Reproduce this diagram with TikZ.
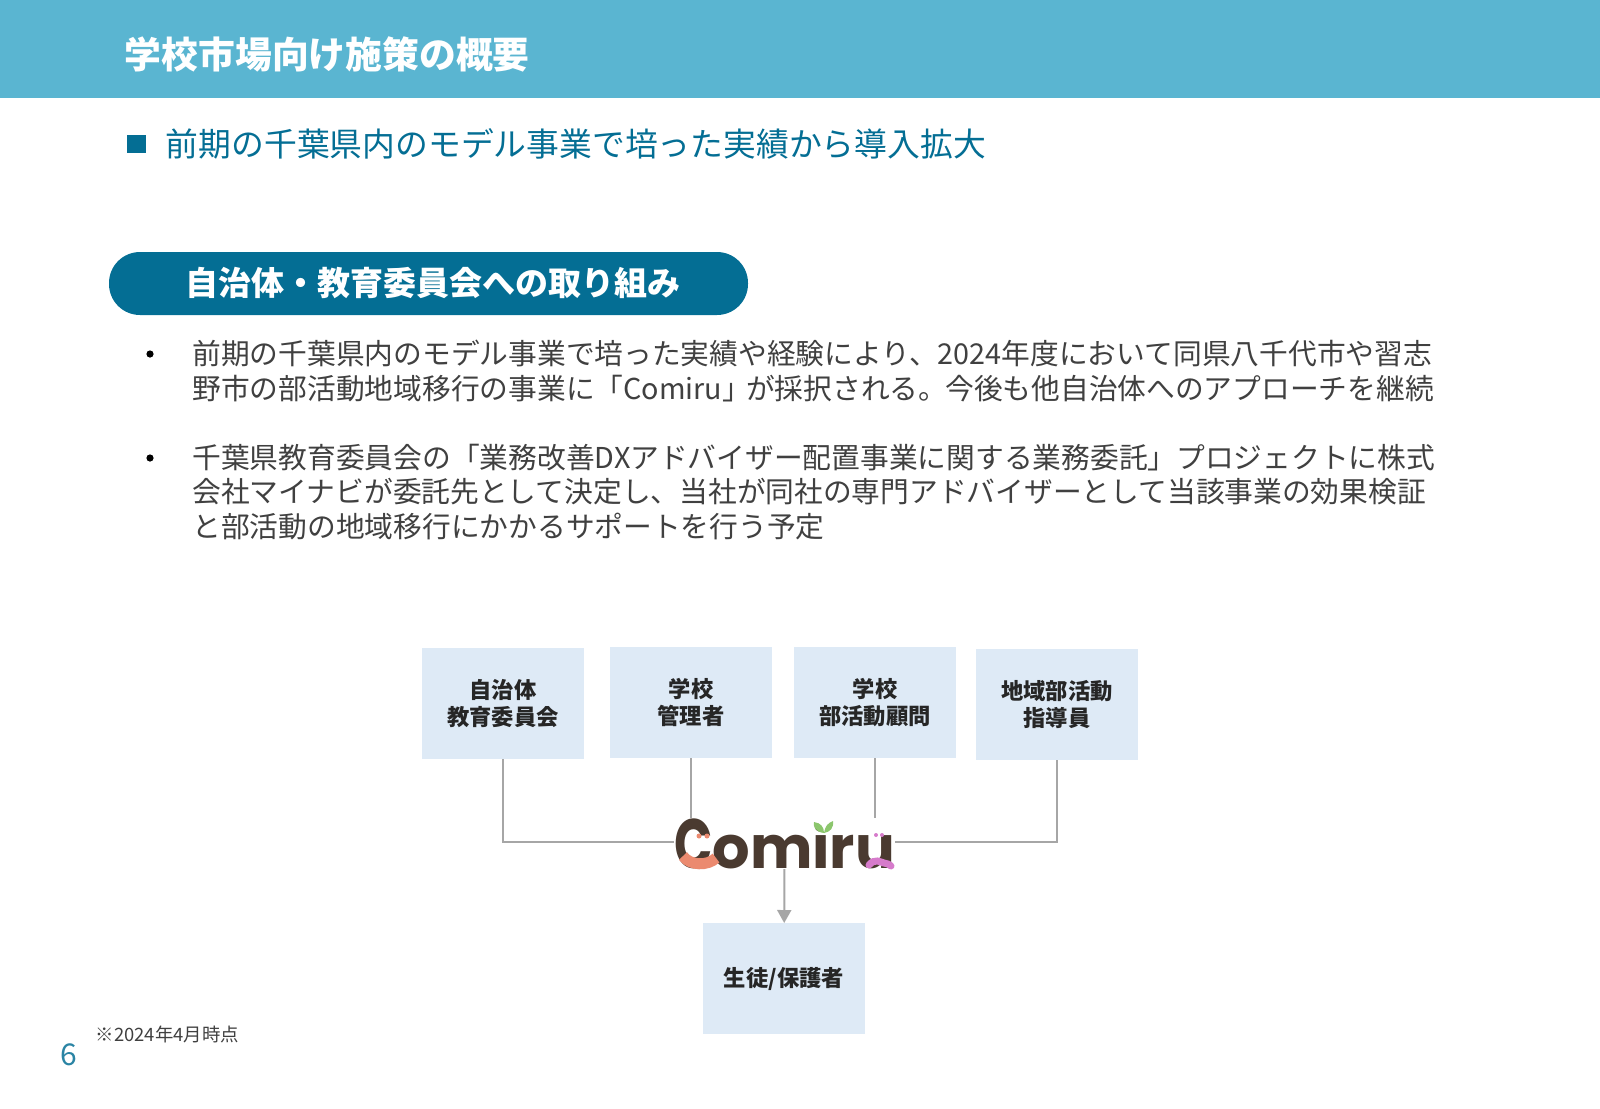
\documentclass[tikz,border=0pt]{standalone}
\usepackage{fontspec}
\setmainfont{Noto Sans CJK JP}
\newfontfamily\logofont{Poppins}
\usetikzlibrary{positioning,arrows.meta}
\definecolor{headblue}{HTML}{5AB5D1}
\definecolor{deepblue}{HTML}{046E94}
\definecolor{boxblue}{HTML}{DEEAF6}
\definecolor{bodygray}{HTML}{404040}
\definecolor{linegray}{HTML}{A6A6A6}
\definecolor{logobrown}{HTML}{4A3A30}
\definecolor{leafgreen}{HTML}{8CC66D}
\definecolor{logosalmon}{HTML}{EB8A6F}
\definecolor{logopink}{HTML}{D67BCB}
\begin{document}
\begin{tikzpicture}[
    x=0.5pt,
    y=-0.5pt,
    plaintext/.style={
        inner sep=0pt,
        anchor=west
    },
    titletext/.style={
        plaintext,
        text=white,
        font=\fontsize{18.4pt}{22pt}\selectfont\bfseries
    },
    subtext/.style={
        plaintext,
        text=deepblue,
        font=\fontsize{16.4pt}{20pt}\selectfont
    },
    pill/.style={
        fill=deepblue,
        rounded corners=15.5pt,
        text=white,
        minimum width=319.5pt,
        minimum height=31.5pt,
        inner sep=0pt,
        font=\fontsize{16.5pt}{20pt}\selectfont\bfseries
    },
    bodytext/.style={
        inner sep=0pt,
        anchor=north west,
        align=left,
        text=bodygray,
        font=\fontsize{14.37pt}{17.35pt}\selectfont
    },
    bulletdot/.style={
        circle,
        fill=black,
        minimum size=3.6pt,
        inner sep=0pt
    },
    actor/.style={
        fill=boxblue,
        minimum width=81pt,
        minimum height=55.5pt,
        inner sep=0pt,
        outer sep=0pt,
        align=center,
        text=black!85,
        font=\fontsize{11.15pt}{13.3pt}\selectfont\bfseries
    },
    link/.style={
        draw=linegray,
        line width=1pt
    },
    arrow/.style={
        link,
        -{Triangle[length=6.5pt,width=7pt]}
    }
]
\useasboundingbox (0,0) rectangle (1600,1108);

% Header
\fill[headblue] (0,0) rectangle (1600,98);
\node[titletext] (title) at (124.5,54.5) {学校市場向け施策の概要};
\fill[deepblue] (126.5,135) rectangle (146,153);
\node[subtext] (sub) at (165.5,144) {前期の千葉県内のモデル事業で培った実績から導入拡大};

% Text
\node[pill] (heading) at (428.5,283.5) {\hspace*{4.5pt}自治体・教育委員会への取り組み};
\node[bulletdot] (dotA) at (150,354) {};
\node[bodytext] (paraA) at (192,339.5) {前期の千葉県内のモデル事業で培った実績や経験により、2024年度において同県八千代市や習志\\野市の部活動地域移行の事業に「Comiru」\kern-2.5ptが採択される。\kern-1pt今後も他自治体へのアプローチを継続};
\node[bulletdot] (dotB) at (150,458) {};
\node[bodytext] (paraB) at (192,443.5) {千葉県教育委員会の「業務改善DXアドバイザー配置事業に関する業務委託」プロジェクトに株式\\会社マイナビが委託先として決定し、当社が同社の専門アドバイザーとして当該事業の効果検証\\と部活動の地域移行にかかるサポートを行う予定};

% Nodes
\node[actor] (city) at (503,703.5) {自治体\\教育委員会};
\node[actor] (head) [right=13pt of city, yshift=0.5pt] {学校\\管理者};
\node[actor] (coach) [right=11pt of head] {学校\\部活動顧問};
\node[actor] (guide) [right=10pt of coach, yshift=-1pt] {地域部活動\\指導員};
\node[actor] (family) at (784,978.5) {生徒/保護者};
\node[minimum width=108.5pt, minimum height=25.5pt, inner sep=0pt, outer sep=0pt, text=logobrown] (logo) at (784.5,843.5)
    {\logofont\bfseries\scalebox{0.72}[1]{\fontsize{35pt}{35pt}\selectfont C}\fontsize{29.5pt}{35pt}\selectfont omiru};

% Logo marks
\fill[white] (823,822) circle (4.5pt);
\fill[leafgreen] (824,833) .. controls (815,832) and (813,826) .. (814,822) .. controls (821,823) and (824,827) .. (824,833);
\fill[leafgreen] (824,833) .. controls (825,826) and (828,823) .. (833,821) .. controls (834,828) and (830,832) .. (824,833);
\foreach \x in {699,707} {\fill[logosalmon] (\x,836) circle (1.25pt);}
\foreach \x in {876,882} {\fill[logopink] (\x,835) circle (1pt);}
\draw[line width=5.5pt, color=logosalmon] (683,856) .. controls (690,866) and (708,866) .. (716,858);
\draw[line width=3.5pt, color=logopink, line cap=round] (869,865) .. controls (875,858) and (880,862) .. (884,863) .. controls (888,864) and (889,864) .. (891,866);

% Arrows
\draw[link] (city.south) |- ([yshift=1pt]logo.west);
\draw[link] (guide.south) |- ([yshift=0.75pt]logo.east);
\foreach \from in {head, coach} {
    \draw[link] (\from.south) -- (\from.south |- logo.north);
}
\draw[arrow] (logo) -- (family);

% Footer
\node[plaintext, text=bodygray, font=\fontsize{9.2pt}{11pt}\selectfont] (note) at (95.5,1034) {※2024年4月時点};
\node[plaintext, text=deepblue!85!white, font=\fontsize{15pt}{18pt}\selectfont] (page) at (60.5,1055) {6};
\end{tikzpicture}
\end{document}
